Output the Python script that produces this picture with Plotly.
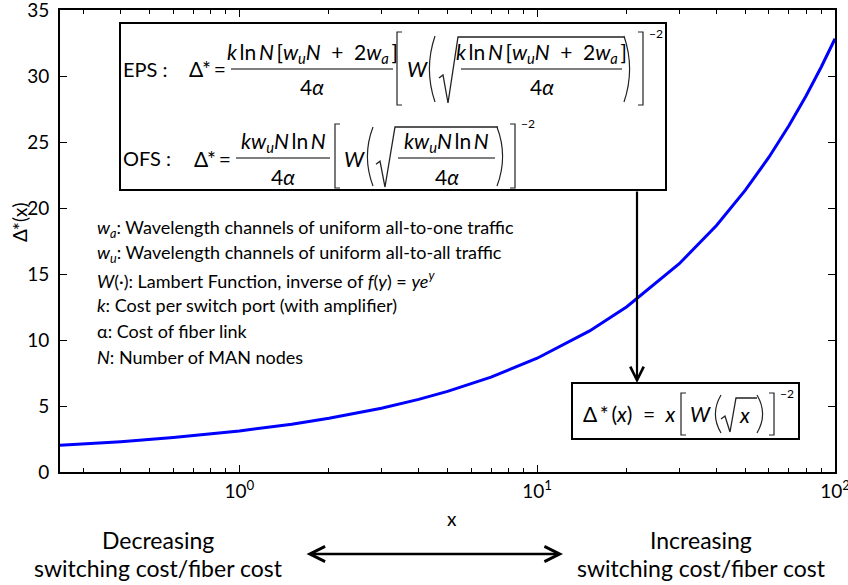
import plotly.graph_objects as go

# Optimal Δ*(x) versus the switching-cost / fiber-cost ratio x
x_ratio = [0.25, 0.4, 0.6, 0.8, 1, 1.5, 2, 3, 4, 5, 7, 10, 15, 20, 30, 40, 50, 60, 70, 80, 90, 100]
delta_star = [2.02, 2.30, 2.61, 2.88, 3.11, 3.62, 4.07, 4.83, 5.50, 6.11, 7.19, 8.62, 10.69,
              12.52, 15.78, 18.67, 21.35, 23.85, 26.23, 28.51, 30.70, 32.82]

x_tick_vals = [1, 10, 100]
x_tick_text = ["10<sup>0</sup>", "10<sup>1</sup>", "10<sup>2</sup>"]
x_minor_vals = [0.3, 0.4, 0.5, 0.6, 0.7, 0.8, 0.9, 2, 3, 4, 5, 6, 7, 8, 9,
                20, 30, 40, 50, 60, 70, 80, 90]
y_tick_vals = [0, 5, 10, 15, 20, 25, 30, 35]

legend_lines = [
    "<i>w<sub>a</sub></i>: Wavelength channels of uniform all-to-one traffic",
    "<i>w<sub>u</sub></i>: Wavelength channels of uniform all-to-all traffic",
    "<i>W</i>(·): Lambert Function, inverse of <i>f</i>(<i>y</i>) = <i>ye<sup>y</sup></i>",
    "<i>k</i>: Cost per switch port (with amplifier)",
    "α: Cost of fiber link",
    "<i>N</i>: Number of MAN nodes",
]

FONT = "Lato, 'Open Sans', sans-serif"
W_FIG, H_FIG = 848, 585
M_L, M_R, M_T, M_B = 60, 13, 10, 113
PW = W_FIG - M_L - M_R
PH = H_FIG - M_T - M_B

TS = "\u2009"   # thin space
ES = "\u2002"   # en space
FS = 21         # formula font size


def X(px):
    return (px - M_L) / PW


def Y(py):
    return (M_T + PH - py) / PH


annotations = []
shapes = []


def text(px, py, s, size=17, anchor="left", angle=0):
    annotations.append(dict(x=X(px), y=Y(py), xref="paper", yref="paper", text=s,
                            showarrow=False, xanchor=anchor, yanchor="middle",
                            textangle=angle, borderpad=0,
                            font=dict(family=FONT, size=size, color="black")))


def seg(x0, y0, x1, y1, w=1.2, color="black"):
    shapes.append(dict(type="line", xref="paper", yref="paper", x0=X(x0), y0=Y(y0),
                       x1=X(x1), y1=Y(y1), line=dict(color=color, width=w)))


def path(points, w=1.2, color="#222"):
    d = "M" + " L".join(f"{X(a):.5f},{Y(b):.5f}" for a, b in points)
    shapes.append(dict(type="path", xref="paper", yref="paper", path=d,
                       line=dict(color=color, width=w)))


def curve(p0, c, p1, w=1.2, color="#222"):
    d = (f"M{X(p0[0]):.5f},{Y(p0[1]):.5f} Q{X(c[0]):.5f},{Y(c[1]):.5f} "
         f"{X(p1[0]):.5f},{Y(p1[1]):.5f}")
    shapes.append(dict(type="path", xref="paper", yref="paper", path=d,
                       line=dict(color=color, width=w)))


def bracket(x, top, bot, side):
    d = 5 if side == "left" else -5
    path([(x + d, top), (x, top), (x, bot), (x + d, bot)])


def paren(x, top, bot, side):
    d = 7 if side == "left" else -7
    curve((x + d, top), (x - d * 0.6, (top + bot) / 2), (x + d, bot))


def radical(x0, x1, x2, top, bot):
    mid = top + (bot - top) * 0.62
    path([(x0, mid), (x0 + 4, mid - 3), (x0 + 9, bot), (x1, top), (x2, top)], w=1.3)


def frac(x0, x1, yc, num, den, size=FS):
    seg(x0, yc, x1, yc, w=1.2)
    cx = (x0 + x1) / 2
    text(cx, yc - 16, num, size=size, anchor="center")
    text(cx, yc + 18, den, size=size, anchor="center")


# ---- formula box: EPS and OFS expressions ----
shapes.append(dict(type="rect", xref="paper", yref="paper", x0=X(120), x1=X(666),
                   y0=Y(23), y1=Y(190), line=dict(color="black", width=2),
                   fillcolor="white"))

eps_num = (f"<i>k</i>{TS}ln{TS}<i>N</i>{TS}[<i>w<sub>u</sub>N</i>{ES}+{ES}"
           f"2<i>w<sub>a</sub></i>{TS}]")
ofs_num = f"<i>kw<sub>u</sub>N</i>{TS}ln{TS}<i>N</i>"
den = "4<i>α</i>"

yc = 69
text(122, yc, "EPS :", size=20)
text(227, yc, f"Δ*{TS}=", size=21, anchor="right")
frac(231, 393, yc, eps_num, den)
bracket(397, 32, 105, "left")
text(406, yc, "<i>W</i>", size=FS)
paren(428, 36, 102, "left")
radical(439, 458, 624, 37, 103)
frac(461, 622, yc, eps_num, den)
paren(631, 36, 102, "right")
bracket(643, 32, 105, "right")
text(648, 33, "−2", size=12)

yc = 158
text(122, yc, "OFS :", size=20)
text(232, yc, f"Δ*{TS}=", size=21, anchor="right")
frac(236, 330, yc, ofs_num, den)
bracket(335, 124, 188, "left")
text(343, yc, "<i>W</i>", size=FS)
paren(366, 127, 186, "left")
radical(376, 395, 498, 127, 187)
frac(398, 495, yc, ofs_num, den)
paren(504, 127, 186, "right")
bracket(515, 124, 188, "right")
text(520, 124, "−2", size=12)

# ---- closed-form box ----
shapes.append(dict(type="rect", xref="paper", yref="paper", x0=X(572), x1=X(799),
                   y0=Y(383), y1=Y(439), line=dict(color="black", width=2),
                   fillcolor="white"))
text(582, 413, f"Δ{TS}*{TS}(<i>x</i>){ES}={ES}<i>x</i>", size=21)
bracket(681, 393, 435, "left")
text(689, 413, "<i>W</i>", size=FS)
paren(714, 395, 433, "left")
radical(721, 736, 757, 398, 432)
text(738, 414, "<i>x</i>", size=21)
paren(764, 395, 433, "right")
bracket(774, 393, 435, "right")
text(779, 393, "−2", size=12)

# arrow linking the two boxes
annotations.append(dict(x=X(637), y=Y(383), xref="paper", yref="paper", ax=0, ay=-193,
                        showarrow=True, arrowhead=5, arrowsize=1.2, arrowwidth=2.2,
                        arrowcolor="black", text="", standoff=0))

# ---- variable legend ----
for i, line in enumerate(legend_lines):
    text(96, 228 + i * 25.8, line, size=18)

# ---- axis titles ----
text(19, 222, "Δ*(x)", size=19, anchor="center", angle=-90)
text(452, 518, "x", size=19, anchor="center")

# ---- direction captions under the axis ----
text(158, 540, "Decreasing", size=23, anchor="center")
text(158, 568, "switching cost/fiber cost", size=23, anchor="center")
text(701, 540, "Increasing", size=23, anchor="center")
text(701, 568, "switching cost/fiber cost", size=23, anchor="center")
annotations.append(dict(x=X(563), y=Y(554), xref="paper", yref="paper", ax=-258, ay=0,
                        showarrow=True, arrowhead=5, startarrowhead=5, arrowside="end+start",
                        arrowsize=1.2, startarrowsize=1.2, arrowwidth=2.5,
                        arrowcolor="black", text="", standoff=0, startstandoff=0))

fig = go.Figure()
fig.add_trace(go.Scatter(x=x_ratio, y=delta_star, mode="lines",
                         line=dict(color="#0000ff", width=3), showlegend=False))

axis_common = dict(showline=True, linecolor="black", linewidth=1.6, mirror="ticks",
                   ticks="inside", tickcolor="black", tickwidth=1, ticklen=7,
                   showgrid=False, zeroline=False, ticklabeloverflow="allow",
                   tickfont=dict(family=FONT, size=19, color="black"))

fig.update_layout(
    width=W_FIG, height=H_FIG,
    margin=dict(l=M_L, r=M_R, t=M_T, b=M_B, pad=0),
    paper_bgcolor="white", plot_bgcolor="white",
    template="none",
    xaxis=dict(type="log", range=[-0.60206, 2], tickvals=x_tick_vals, ticktext=x_tick_text,
               ticklabelstandoff=1, automargin=False,
               minor=dict(ticks="inside", ticklen=4, tickcolor="black", tickwidth=1,
                          tickvals=x_minor_vals, showgrid=False),
               **axis_common),
    yaxis=dict(range=[0, 35], tickvals=y_tick_vals, ticklabelstandoff=5, automargin=False,
               **axis_common),
    annotations=annotations,
    shapes=shapes,
)

fig.write_html("out.html")
